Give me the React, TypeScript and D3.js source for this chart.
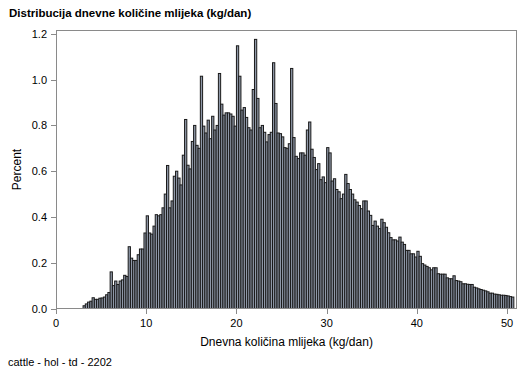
import React from "react";
import * as d3 from "d3";

const BIN_START = 3.0;
const BIN_WIDTH = 0.25;

// Percent per 0.25 kg bin, starting at 3.00 kg
const percent: number[] = [
  0.012, 0.02, 0.028, 0.032, 0.047, 0.04, 0.04, 0.045, 0.046, 0.05, 0.06, 0.07,
  0.16, 0.10, 0.12, 0.105, 0.12, 0.125, 0.145, 0.14,
  0.27, 0.22, 0.21, 0.21, 0.235, 0.26, 0.26, 0.33,
  0.405, 0.33, 0.325, 0.36, 0.41, 0.405, 0.41, 0.44,
  0.50, 0.625, 0.44, 0.47, 0.578, 0.60, 0.57, 0.54,
  0.67, 0.826, 0.626, 0.61, 0.73, 0.80, 0.713, 0.70,
  1.015, 0.797, 0.767, 0.823, 0.742, 0.84, 0.78, 0.80,
  1.027, 0.893, 0.845, 0.855, 0.855, 0.85, 0.84, 0.797,
  1.148, 1.015, 0.867, 0.878, 0.835, 0.79, 0.78, 0.957,
  1.176, 0.918, 0.79, 0.80, 0.77, 0.728, 0.76, 0.77,
  1.074, 0.896, 0.767, 0.764, 0.75, 0.703, 0.70, 0.72,
  1.049, 0.747, 0.665, 0.655, 0.68, 0.68, 0.67, 0.78,
  0.815, 0.696, 0.66, 0.607, 0.633, 0.563, 0.575, 0.55,
  0.703, 0.68, 0.557, 0.567, 0.52, 0.51, 0.48, 0.50,
  0.586, 0.546, 0.52, 0.50, 0.475, 0.465, 0.45, 0.436,
  0.47, 0.47, 0.426, 0.407, 0.363, 0.382, 0.36, 0.349,
  0.39, 0.375, 0.355, 0.331, 0.31, 0.30, 0.30, 0.295,
  0.312, 0.29, 0.28, 0.254, 0.254, 0.239, 0.239, 0.225,
  0.25, 0.228, 0.196, 0.19, 0.184, 0.178, 0.169, 0.178,
  0.178, 0.152, 0.15, 0.15, 0.15, 0.134, 0.13, 0.13,
  0.143, 0.122, 0.12, 0.117, 0.108, 0.108, 0.106, 0.105,
  0.105, 0.093, 0.09, 0.086, 0.083, 0.08, 0.077, 0.073,
  0.067, 0.067, 0.063, 0.062, 0.06, 0.058, 0.058, 0.057,
  0.055, 0.052, 0.05,
];

const xTicks = [0, 10, 20, 30, 40, 50];
const yTicks = [0, 0.2, 0.4, 0.6, 0.8, 1.0, 1.2];

const title = "Distribucija dnevne količine mlijeka (kg/dan)";
const xLabel = "Dnevna količina mlijeka (kg/dan)";
const yLabel = "Percent";
const footnote = "cattle - hol - td - 2202";

const W = 529;
const H = 378;
const L = 56, R = 517, T = 30, B = 309;
const FONT = "'Liberation Sans', Arial, Helvetica, sans-serif";
const AXIS = "#8a8a8a";

export default function App() {
  const x = d3.scaleLinear().domain([0, 51.1]).range([L, R]);
  const y = d3.scaleLinear().domain([0, 1.217]).range([B - 0.5, T]);

  const bins = percent.map((v, i) => ({
    x0: BIN_START + i * BIN_WIDTH,
    x1: BIN_START + (i + 1) * BIN_WIDTH,
    v,
  }));

  return (
    <svg
      width={W}
      height={H}
      style={{ position: "absolute", left: 0, top: 0, background: "#fff" }}
      fontFamily={FONT}
    >
      <rect x={0} y={0} width={W} height={H} fill="#fff" />
      <text x={9} y={17} fontSize={11.5} fontWeight="bold" fill="#000">
        {title}
      </text>

      <g>
        {bins.map((b, i) => (
          <rect
            key={i}
            x={x(b.x0)}
            y={y(b.v)}
            width={x(b.x1) - x(b.x0)}
            height={y(0) - y(b.v)}
            fill="#8f98a8"
            stroke="#1a1a1a"
            strokeWidth={1}
          />
        ))}
      </g>

      <rect
        x={L + 0.5}
        y={T + 0.5}
        width={R - L - 1}
        height={B - T - 1}
        fill="none"
        stroke={AXIS}
        strokeWidth={1}
      />

      {yTicks.map((t) => (
        <g key={"y" + t}>
          <line x1={L - 5} x2={L} y1={Math.round(y(t)) + 0.5} y2={Math.round(y(t)) + 0.5} stroke={AXIS} />
          <text x={L - 9} y={y(t) + 4} fontSize={11} textAnchor="end" fill="#000">
            {t.toFixed(1)}
          </text>
        </g>
      ))}

      {xTicks.map((t) => (
        <g key={"x" + t}>
          <line x1={Math.round(x(t)) + 0.5} x2={Math.round(x(t)) + 0.5} y1={B} y2={B + 5} stroke={AXIS} />
          <text x={x(t)} y={327} fontSize={11} textAnchor="middle" fill="#000">
            {t}
          </text>
        </g>
      ))}

      <text x={(L + R) / 2} y={346} fontSize={12} textAnchor="middle" fill="#000">
        {xLabel}
      </text>
      <text
        transform={`translate(21, ${(T + B) / 2}) rotate(-90)`}
        fontSize={12}
        textAnchor="middle"
        fill="#000"
      >
        {yLabel}
      </text>
      <text x={8} y={366} fontSize={11} fill="#000">
        {footnote}
      </text>
    </svg>
  );
}
